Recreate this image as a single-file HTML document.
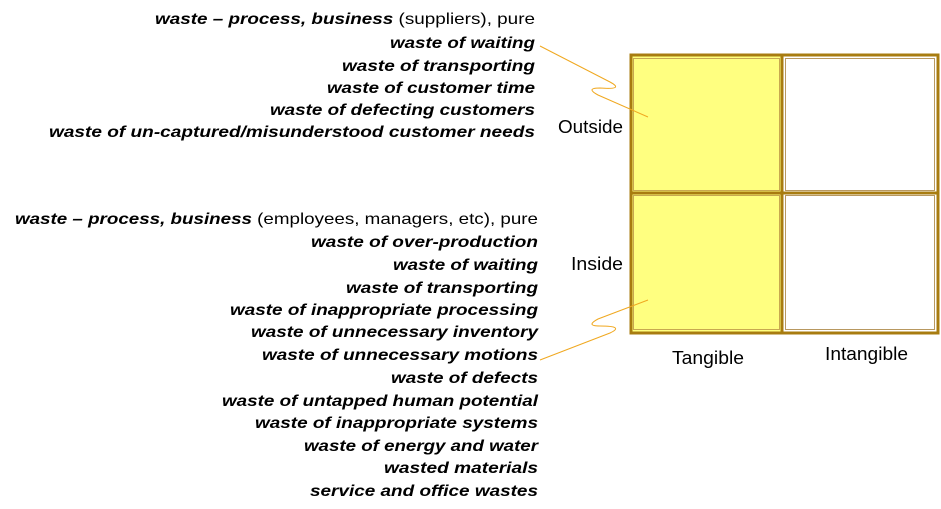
<!DOCTYPE html>
<html><head><meta charset="utf-8"><style>
html,body{margin:0;padding:0;background:#fff;width:941px;height:509px;overflow:hidden}
svg{display:block}
text{font-family:"Liberation Sans",sans-serif;font-size:16px;fill:#000}
.b{font-weight:bold;font-style:italic}
.l{font-size:18px}
</style></head><body>
<svg width="941" height="509" viewBox="0 0 941 509" xmlns="http://www.w3.org/2000/svg">
<g text-anchor="end">
<text x="535" y="24" textLength="380" lengthAdjust="spacingAndGlyphs"><tspan class="b">waste – process, business</tspan> (suppliers), pure</text>
<text class="b" x="535" y="48" textLength="145" lengthAdjust="spacingAndGlyphs">waste of waiting</text>
<text class="b" x="535" y="71" textLength="193" lengthAdjust="spacingAndGlyphs">waste of transporting</text>
<text class="b" x="535" y="93" textLength="208" lengthAdjust="spacingAndGlyphs">waste of customer time</text>
<text class="b" x="535" y="115" textLength="265" lengthAdjust="spacingAndGlyphs">waste of defecting customers</text>
<text class="b" x="535" y="137" textLength="486" lengthAdjust="spacingAndGlyphs">waste of  un-captured/misunderstood customer needs</text>

<text x="538" y="224" textLength="523" lengthAdjust="spacingAndGlyphs"><tspan class="b">waste – process, business</tspan> (employees, managers, etc), pure</text>
<text class="b" x="538" y="247" textLength="227" lengthAdjust="spacingAndGlyphs">waste of over-production</text>
<text class="b" x="538" y="270" textLength="145" lengthAdjust="spacingAndGlyphs">waste of waiting</text>
<text class="b" x="538" y="293" textLength="192" lengthAdjust="spacingAndGlyphs">waste of transporting</text>
<text class="b" x="538" y="315" textLength="308" lengthAdjust="spacingAndGlyphs">waste of inappropriate processing</text>
<text class="b" x="538" y="337" textLength="287" lengthAdjust="spacingAndGlyphs">waste of unnecessary inventory</text>
<text class="b" x="538" y="360" textLength="276" lengthAdjust="spacingAndGlyphs">waste of unnecessary motions</text>
<text class="b" x="538" y="383" textLength="147" lengthAdjust="spacingAndGlyphs">waste of defects</text>
<text class="b" x="538" y="406" textLength="316" lengthAdjust="spacingAndGlyphs">waste of untapped human potential</text>
<text class="b" x="538" y="428" textLength="283" lengthAdjust="spacingAndGlyphs">waste of inappropriate systems</text>
<text class="b" x="538" y="451" textLength="234" lengthAdjust="spacingAndGlyphs">waste of energy and water</text>
<text class="b" x="538" y="473" textLength="154" lengthAdjust="spacingAndGlyphs">wasted materials</text>
<text class="b" x="538" y="496" textLength="228" lengthAdjust="spacingAndGlyphs">service and office wastes</text>
</g>

<rect x="632" y="56" width="150" height="276" fill="#ffff80"/>
<rect x="633.5" y="58.5" width="146" height="132" fill="none" stroke="#c8a850" stroke-width="1"/>
<rect x="633.5" y="195.5" width="146" height="134" fill="none" stroke="#c8a850" stroke-width="1"/>
<rect x="785.5" y="58.5" width="149" height="132" fill="none" stroke="#b89860" stroke-width="1"/>
<rect x="785.5" y="195.5" width="149" height="134" fill="none" stroke="#b89860" stroke-width="1"/>
<rect x="631" y="55" width="307" height="278" fill="none" stroke="#a87c10" stroke-width="3"/>
<line x1="782" y1="55" x2="782" y2="333" stroke="#a87c10" stroke-width="3"/>
<line x1="631" y1="193" x2="938" y2="193" stroke="#a87c10" stroke-width="3"/>

<path d="M540,46 L610,82 Q625,90 600,88 Q585,88 598,95 L648,117" fill="none" stroke="#f0a820" stroke-width="1"/>
<path d="M540,360 L610,333 Q625,326 600,326 Q585,326 598,319 L648,300" fill="none" stroke="#f0a820" stroke-width="1"/>

<text class="l" x="558" y="133" textLength="65" lengthAdjust="spacingAndGlyphs">Outside</text>
<text class="l" x="571" y="270" textLength="52" lengthAdjust="spacingAndGlyphs">Inside</text>
<text class="l" x="672" y="364" textLength="72" lengthAdjust="spacingAndGlyphs">Tangible</text>
<text class="l" x="825" y="360" textLength="83" lengthAdjust="spacingAndGlyphs">Intangible</text>
</svg>
</body></html>
